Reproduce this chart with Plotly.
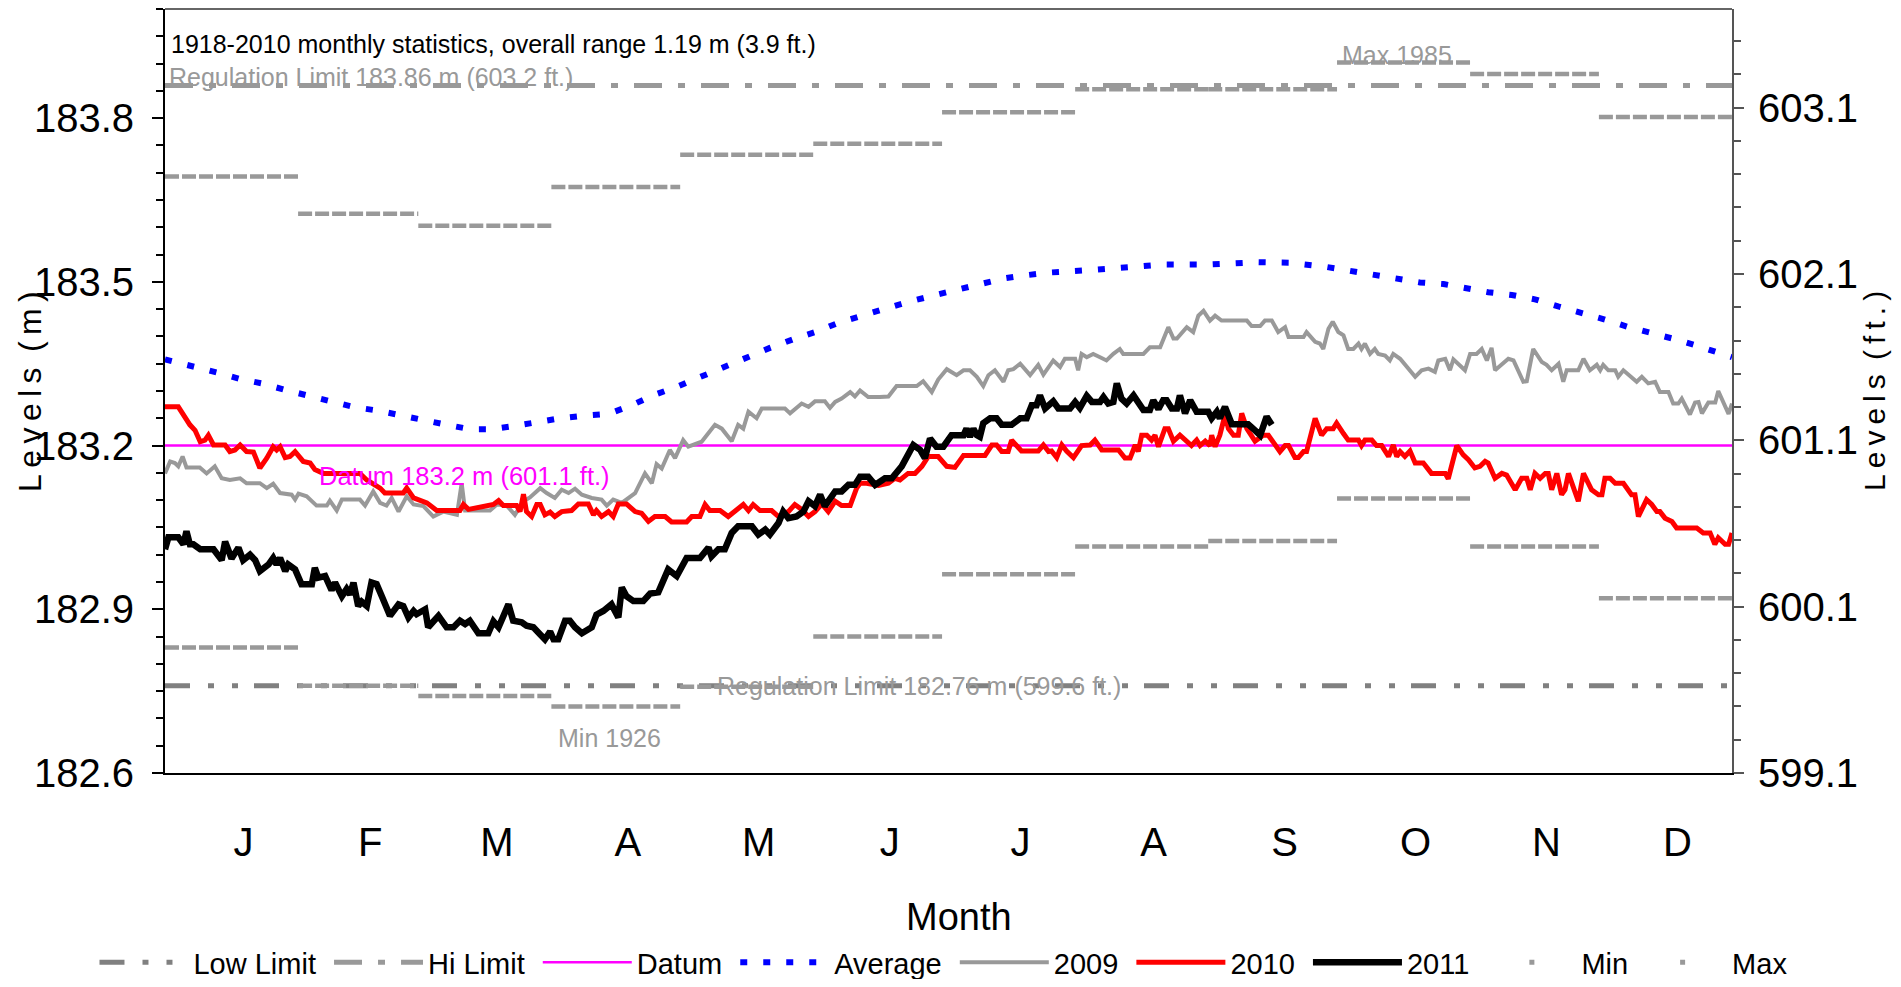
import plotly.graph_objects as go

# ---- data (levels in metres, x = day of year, 0 = start of Jan 1) ----
month_names = ["J", "F", "M", "A", "M", "J", "J", "A", "S", "O", "N", "D"]
month_len = [31, 28, 31, 30, 31, 30, 31, 31, 30, 31, 30, 31]

month_min = [182.830, 182.760, 182.741, 182.722, 182.758, 182.850,
             182.964, 183.015, 183.025, 183.103, 183.015, 182.920]
month_max = [183.693, 183.625, 183.603, 183.674, 183.733, 183.753,
             183.811, 183.853, 183.853, 183.902, 183.881, 183.802]

low_limit = 182.76
hi_limit = 183.86
datum = 183.2

avg_days = [0, 6.6, 12, 17.5, 22.5, 28, 33.4, 38.8, 44.3, 49.7,
            54.7, 60.6, 65.6, 71, 76.1, 81.5, 87, 92, 97.8, 103.3,
            108.7, 113.7, 119.6, 125, 130.4, 135.9, 140.9, 146.4, 151.8, 157.2,
            162.7, 168.1, 173.5, 179, 184, 189.5, 195.2, 200.4, 205.8, 216.5,
            222, 232.9, 243.7, 254.4, 262, 270, 280, 292.3, 297.8, 302.8,
            308.2, 313.7, 319.1, 324.5, 330, 335.4, 340.9, 346.3, 351.7, 357.2,
            362.5, 365]
avg_lvl = [183.358, 183.346, 183.334, 183.322, 183.314, 183.302, 183.291, 183.282, 183.270, 183.264,
           183.255, 183.247, 183.238, 183.230, 183.230, 183.236, 183.244, 183.250, 183.255, 183.258,
           183.274, 183.292, 183.309, 183.327, 183.345, 183.362, 183.379, 183.395, 183.409, 183.426,
           183.439, 183.454, 183.464, 183.475, 183.485, 183.496, 183.506, 183.512, 183.517, 183.522,
           183.526, 183.532, 183.532, 183.536, 183.535, 183.528, 183.515, 183.499, 183.496, 183.488,
           183.481, 183.476, 183.468, 183.455, 183.444, 183.431, 183.417, 183.407, 183.395, 183.382,
           183.368, 183.362]

days_2009 = [0, 1.2, 2.3, 3.1, 4.1, 5.0, 8.1, 9.7, 11.6, 13.2,
             15.1, 17.5, 19.0, 22.1, 23.7, 25.2, 26.8, 29.5, 30.3, 31.1,
             33.0, 35.3, 37.7, 38.4, 40.0, 41.2, 45.4, 46.6, 48.5, 50.1,
             51.6, 52.8, 54.4, 56.3, 57.9, 60.2, 62.5, 64.8, 68.0, 69.1,
             69.9, 75.7, 77.3, 79.6, 81.5, 83.5, 85.0, 87.4, 88.9,
             90.8, 92.4, 94.0, 95.5, 97.1, 99.4, 101.7, 102.9, 104.4, 106.4,
             109.5, 111.8, 113.4, 114.5, 115.7, 117.6, 118.8, 120.7, 121.9, 125.0,
             128.1, 129.7, 132.0, 133.5, 134.7, 135.9, 137.8, 139.0, 144.4, 145.6,
             148.3, 149.9, 151.4, 153.7, 154.9, 156.1, 157.6, 159.6, 160.7, 161.9,
             163.8, 166.5, 168.5, 170.4, 175.1, 176.6, 178.6, 180.1, 182.1,
             184.4, 186.0, 187.5, 189.1, 190.6, 191.8, 193.3, 195.3, 196.4, 197.6,
             199.2, 201.5, 203.4, 204.6, 206.9, 208.5, 209.6, 212.0, 212.7, 213.5,
             214.7, 216.2, 217.8, 219.3, 220.9, 222.4, 223.2, 227.9, 229.4, 231.8,
             233.7, 234.9, 235.7, 238.0, 239.5, 240.7, 241.9, 243.4, 244.6, 246.1,
             252.0, 253.1, 255.1, 256.2, 257.8, 259.3, 260.9, 261.7, 265.2, 265.9,
             267.9, 269.0, 269.8, 271.0, 272.0, 273.3, 274.5,
             275.6, 276.8, 278.0, 278.7, 279.5, 280.7, 281.8, 282.6, 284.2, 285.3,
             286.1, 287.7, 290.4, 291.2, 292.7, 294.3, 295.8, 296.6, 298.2, 299.3,
             300.1, 301.6, 302.8, 304.0, 305.5, 306.7, 307.9, 309.0, 309.8, 312.9,
             314.1, 316.4, 317.2, 318.7, 320.7, 321.8, 323.0, 324.6, 325.7, 326.5,
             329.2, 330.4, 331.9, 333.5, 334.3, 335.0, 336.2, 337.8, 338.5, 339.7,
             341.6, 342.8, 344.0, 345.5, 347.1, 348.2, 350.2, 351.3, 352.5, 353.3,
             355.2, 356.4, 357.2, 358.0, 359.5, 361.1, 361.8, 364.2, 365.0]
lvl_2009 = [183.149, 183.171, 183.168, 183.162, 183.180, 183.160, 183.160, 183.149, 183.162, 183.140,
            183.137, 183.140, 183.131, 183.131, 183.122, 183.130, 183.113, 183.110, 183.101, 183.112,
            183.107, 183.090, 183.090, 183.099, 183.081, 183.101, 183.101, 183.090, 183.116, 183.095,
            183.090, 183.104, 183.079, 183.107, 183.092, 183.089, 183.070, 183.079, 183.073, 183.131,
            183.081, 183.081, 183.092, 183.090, 183.073, 183.098, 183.105, 183.122, 183.113,
            183.104, 183.119, 183.113, 183.121, 183.110, 183.104, 183.101, 183.090, 183.101, 183.095,
            183.113, 183.149, 183.131, 183.166, 183.158, 183.192, 183.177, 183.210, 183.198, 183.207,
            183.238, 183.231, 183.208, 183.238, 183.231, 183.262, 183.250, 183.268, 183.268, 183.259,
            183.277, 183.271, 183.281, 183.281, 183.269, 183.280, 183.286, 183.298, 183.290, 183.301,
            183.289, 183.289, 183.290, 183.309, 183.309, 183.318, 183.298, 183.321, 183.340,
            183.329, 183.338, 183.338, 183.326, 183.309, 183.329, 183.338, 183.317, 183.338, 183.340,
            183.350, 183.329, 183.348, 183.330, 183.356, 183.344, 183.359, 183.359, 183.338, 183.368,
            183.362, 183.368, 183.362, 183.356, 183.368, 183.377, 183.368, 183.368, 183.380, 183.380,
            183.417, 183.396, 183.396, 183.417, 183.408, 183.438, 183.447, 183.429, 183.438, 183.429,
            183.429, 183.419, 183.419, 183.429, 183.429, 183.408, 183.417, 183.399, 183.399, 183.408,
            183.390, 183.387, 183.377, 183.414, 183.427, 183.408, 183.402,
            183.377, 183.377, 183.387, 183.377, 183.387, 183.368, 183.377, 183.368, 183.365, 183.356,
            183.368, 183.359, 183.335, 183.326, 183.338, 183.341, 183.335, 183.356, 183.359, 183.338,
            183.358, 183.348, 183.338, 183.368, 183.368, 183.377, 183.356, 183.379, 183.338, 183.359,
            183.356, 183.317, 183.318, 183.377, 183.353, 183.348, 183.338, 183.350, 183.317, 183.338,
            183.338, 183.359, 183.338, 183.348, 183.338, 183.348, 183.338, 183.338, 183.326, 183.338,
            183.326, 183.317, 183.326, 183.314, 183.317, 183.298, 183.298, 183.277, 183.277, 183.286,
            183.257, 183.279, 183.280, 183.259, 183.279, 183.279, 183.300, 183.258, 183.277]

days_2010 = [0, 3.1, 5.8, 7.0, 8.2, 9.3, 10.1, 11.3, 14.0, 15.1,
             16.3, 17.5, 19.0, 20.6, 22.1, 23.7, 25.2, 26.0, 26.8, 28.0,
             29.1, 30.3, 32.2, 33.8, 34.9, 36.9, 45.4, 47.0, 50.1, 51.2,
             55.5, 56.3, 57.9, 59.4, 61.0, 63.3, 68.7, 69.5, 70.7, 76.5,
             77.7, 78.8, 81.9, 82.7, 83.5, 84.2, 85.4, 86.6, 87.4, 88.5,
             89.7, 90.8,
             92.4, 94.7, 96.3, 98.6, 99.8, 100.5, 101.7, 103.3, 104.4, 105.6,
             107.5, 109.5, 111.0, 112.6, 114.1, 116.5, 118.0, 121.5, 122.7, 124.6,
             125.8, 126.9, 129.3, 131.2, 132.8, 134.7, 135.9, 137.0, 138.6, 141.3,
             142.9, 145.2, 146.7, 148.3, 149.9, 151.4, 153.0, 154.5, 156.1, 157.6,
             159.6, 161.1, 161.9, 163.4, 166.2, 168.5, 170.0, 171.2, 173.1, 174.7,
             176.3, 177.8, 180.1, 182.1,
             184.0, 186.0, 191.0, 192.6, 193.7, 194.9, 196.4, 197.2, 199.5, 203.4,
             204.6, 205.8, 206.5, 207.7, 208.9, 210.0, 211.6, 213.5, 215.5, 216.6,
             218.2, 222.1, 223.6, 224.8, 226.0, 226.7, 227.5, 228.7, 229.8, 230.6,
             231.4, 232.9, 233.7, 234.9, 236.4, 238.0, 239.1, 240.3, 241.1, 242.3,
             243.4, 243.8, 244.6, 245.7, 246.9, 247.7, 248.9, 250.0, 250.8, 252.0,
             253.9, 255.8, 257.0, 259.7, 260.9, 261.7, 263.2, 264.0, 265.2, 265.9,
             267.9, 269.4, 270.6, 272.1, 272.9, 274.5,
             275.6, 278.0, 278.7, 279.5, 281.1, 282.2, 283.4, 285.0, 286.1, 286.9,
             287.7, 288.8, 290.0, 291.2, 293.1, 295.0, 298.2, 298.9, 300.1, 300.9,
             302.4, 303.6, 305.1, 306.3, 307.5, 308.2, 309.8, 311.4, 312.5, 314.5,
             316.0, 317.2, 318.0, 319.1, 320.3, 321.5, 322.2, 323.0, 324.2, 325.3,
             326.1, 326.9, 329.2, 330.4, 332.3, 333.9, 334.7, 335.4, 336.6, 337.8,
             339.7, 341.6, 342.4, 343.2, 345.1, 346.3, 347.5, 348.2, 349.4, 351.0,
             352.1, 356.8, 358.3, 359.9, 361.0, 361.8, 363.4, 364.2, 365.0]
lvl_2010 = [183.271, 183.271, 183.238, 183.228, 183.207, 183.210, 183.219, 183.201, 183.201, 183.189,
            183.192, 183.201, 183.189, 183.188, 183.159, 183.177, 183.198, 183.192, 183.198, 183.178,
            183.180, 183.189, 183.171, 183.168, 183.156, 183.149, 183.149, 183.137, 183.122, 183.113,
            183.113, 183.122, 183.104, 183.099, 183.095, 183.081, 183.081, 183.092, 183.083, 183.092,
            183.099, 183.090, 183.090, 183.079, 183.111, 183.079, 183.070, 183.092, 183.092, 183.073,
            183.078, 183.070,
            183.079, 183.081, 183.093, 183.093, 183.073, 183.081, 183.070, 183.079, 183.070, 183.093,
            183.093, 183.079, 183.076, 183.061, 183.070, 183.070, 183.060, 183.060, 183.070, 183.070,
            183.092, 183.081, 183.081, 183.070, 183.079, 183.092, 183.081, 183.092, 183.081, 183.081,
            183.070, 183.079, 183.092, 183.083, 183.070, 183.079, 183.093, 183.079, 183.098, 183.090,
            183.090, 183.122, 183.131, 183.131, 183.127, 183.131, 183.140, 183.137, 183.149, 183.149,
            183.162, 183.180, 183.180, 183.162,
            183.160, 183.182, 183.182, 183.201, 183.201, 183.189, 183.189, 183.210, 183.190, 183.190,
            183.201, 183.189, 183.190, 183.178, 183.201, 183.190, 183.178, 183.200, 183.201, 183.210,
            183.192, 183.192, 183.177, 183.177, 183.201, 183.189, 183.219, 183.219, 183.210, 183.219,
            183.198, 183.231, 183.231, 183.208, 183.219, 183.208, 183.200, 183.210, 183.200, 183.208,
            183.200, 183.219, 183.198, 183.219, 183.256, 183.231, 183.219, 183.219, 183.259, 183.231,
            183.208, 183.219, 183.219, 183.189, 183.200, 183.200, 183.178, 183.178, 183.189, 183.189,
            183.250, 183.219, 183.231, 183.231, 183.241, 183.222,
            183.210, 183.210, 183.200, 183.210, 183.210, 183.200, 183.200, 183.180, 183.201, 183.180,
            183.189, 183.180, 183.190, 183.168, 183.168, 183.149, 183.149, 183.139, 183.180, 183.200,
            183.183, 183.174, 183.159, 183.162, 183.171, 183.168, 183.140, 183.149, 183.146, 183.119,
            183.140, 183.140, 183.119, 183.149, 183.140, 183.149, 183.149, 183.119, 183.149, 183.110,
            183.119, 183.149, 183.098, 183.149, 183.119, 183.110, 183.110, 183.140, 183.140, 183.131,
            183.131, 183.110, 183.110, 183.070, 183.101, 183.092, 183.079, 183.079, 183.067, 183.061,
            183.049, 183.049, 183.040, 183.040, 183.019, 183.031, 183.019, 183.019, 183.040]

days_2011 = [0, 0.8, 3.1, 4.3, 5.0, 5.8, 6.6, 8.2, 11.3, 13.2,
             14.0, 15.5, 17.1, 18.2, 19.8, 21.0, 22.1, 24.1, 25.2, 26.0,
             26.8, 28.0, 28.7, 30.3, 31.8, 34.2, 34.9, 35.7, 37.3, 38.8,
             39.6, 41.2, 42.3, 43.1, 43.9, 45.0, 45.8, 47.0, 48.1, 49.3,
             50.5, 52.4, 54.4, 55.5, 56.7, 57.9, 58.6, 59.4, 60.6, 61.3,
             63.7, 65.6, 67.2, 68.7, 69.9, 71.0, 73.0, 75.3, 76.5, 77.7,
             78.8, 80.0, 81.1, 83.1, 84.2, 85.8, 87.4, 88.5, 89.7, 90.5,
             91.6, 93.2, 94.3, 95.5, 97.1, 99.4, 100.5, 102.1, 104.0, 105.6,
             106.4, 107.5, 109.1, 111.4, 113.0, 114.9, 117.2, 119.2, 121.5, 124.6,
             126.6, 127.3, 128.9, 130.4, 132.0, 133.5, 136.7, 138.2, 139.8, 140.9,
             142.9, 144.0, 145.2, 147.1, 148.7, 149.9, 151.4, 152.6, 153.7, 156.1,
             157.6, 159.2, 160.7, 161.9, 163.8, 165.4, 167.7, 169.3, 171.6, 174.3,
             175.9, 177.0, 178.2, 179.7, 181.3, 183.2,
             184.0, 186.0, 186.7, 187.5, 188.3, 189.1, 189.8, 190.6, 192.2, 193.7,
             194.9, 197.2, 199.2, 200.7, 201.9, 203.0, 203.8, 205.0, 206.9, 208.1,
             210.8, 212.0, 213.1, 214.7, 215.9, 217.8, 218.6, 219.7, 220.9, 221.7,
             222.8, 224.0, 225.6, 227.9, 229.4, 230.2, 231.4, 232.5, 233.3, 234.5,
             235.7, 236.4, 237.6, 238.8, 240.3, 243.0, 243.8, 245.0, 245.7, 246.9,
             248.5, 252.3, 253.9, 255.1, 256.6, 257.8]
lvl_2011 = [183.010, 183.032, 183.032, 183.019, 183.043, 183.019, 183.019, 183.010, 183.010, 182.990,
            183.024, 182.993, 183.013, 182.990, 183.000, 182.990, 182.970, 182.982, 182.994, 182.982,
            182.994, 182.970, 182.982, 182.973, 182.946, 182.946, 182.976, 182.958, 182.961, 182.935,
            182.949, 182.924, 182.937, 182.927, 182.949, 182.906, 182.914, 182.906, 182.949, 182.946,
            182.924, 182.888, 182.909, 182.906, 182.885, 182.897, 182.891, 182.894, 182.900, 182.867,
            182.888, 182.867, 182.867, 182.879, 182.873, 182.879, 182.856, 182.856, 182.878, 182.867,
            182.891, 182.909, 182.879, 182.876, 182.870, 182.867, 182.854, 182.845, 182.859, 182.845,
            182.845, 182.879, 182.879, 182.867, 182.856, 182.867, 182.890, 182.897, 182.909, 182.885,
            182.940, 182.924, 182.915, 182.915, 182.929, 182.931, 182.973, 182.961, 182.994, 182.994,
            183.013, 182.997, 183.010, 183.010, 183.040, 183.052, 183.052, 183.037, 183.046, 183.037,
            183.058, 183.079, 183.067, 183.070, 183.079, 183.098, 183.089, 183.110, 183.089, 183.116,
            183.116, 183.128, 183.128, 183.143, 183.143, 183.128, 183.140, 183.140, 183.162, 183.201,
            183.192, 183.177, 183.213, 183.198, 183.198, 183.219,
            183.219, 183.219, 183.231, 183.216, 183.231, 183.219, 183.216, 183.241, 183.250, 183.250,
            183.238, 183.238, 183.250, 183.250, 183.274, 183.274, 183.292, 183.268, 183.281, 183.268,
            183.268, 183.280, 183.269, 183.291, 183.280, 183.280, 183.289, 183.277, 183.280, 183.314,
            183.286, 183.277, 183.292, 183.265, 183.265, 183.283, 183.267, 183.283, 183.283, 183.268,
            183.268, 183.292, 183.259, 183.283, 183.262, 183.262, 183.250, 183.262, 183.250, 183.271,
            183.239, 183.239, 183.228, 183.219, 183.253, 183.238]

FT = 0.3048
FONT = "Liberation Sans, Arial, sans-serif"
GREY = "#999999"
PAD = "\u00a0"   # widen legend entries a little

month_start = [sum(month_len[:i]) for i in range(12)]
month_end = [s + n for s, n in zip(month_start, month_len)]
year_end = sum(month_len)
month_mid = [s + n / 2 + 2.8 for s, n in zip(month_start, month_len)]


def month_steps(vals):
    xs, ys = [], []
    for s, e, v in zip(month_start, month_end, vals):
        xs += [s, e, None]
        ys += [v, v, None]
    return xs, ys


fig = go.Figure()

fig.add_trace(go.Scatter(
    x=[0, year_end], y=[low_limit, low_limit], mode="lines", name="Low Limit" + PAD,
    line=dict(color="#808080", width=5, dash="25px,18px,6px,18px,6px,16px")))
fig.add_trace(go.Scatter(
    x=[0, year_end], y=[hi_limit, hi_limit], mode="lines", name="Hi Limit" + PAD,
    line=dict(color=GREY, width=5, dash="28px,16px,7px,16px")))
fig.add_trace(go.Scatter(
    x=[0, year_end], y=[datum, datum], mode="lines", name="Datum" + PAD,
    line=dict(color="#FF00FF", width=2.5)))
fig.add_trace(go.Scatter(
    x=avg_days, y=avg_lvl, mode="lines", name="Average" + PAD,
    line=dict(color="#0000FF", width=6, dash="7px,16px")))
fig.add_trace(go.Scatter(
    x=days_2009, y=lvl_2009, mode="lines", name="2009" + PAD,
    line=dict(color="#999999", width=4)))
fig.add_trace(go.Scatter(
    x=days_2010, y=lvl_2010, mode="lines", name="2010" + PAD,
    line=dict(color="#FF0000", width=5)))
fig.add_trace(go.Scatter(
    x=days_2011, y=lvl_2011, mode="lines", name="2011" + PAD,
    line=dict(color="#000000", width=6.5)))

for vals, name in [(month_min, "Min"), (month_max, "Max")]:
    mx, my = month_steps(vals)
    fig.add_trace(go.Scatter(
        x=mx, y=my, mode="lines", name=name, showlegend=False,
        line=dict(color=GREY, width=4.5, dash="14px,3px")))
    # legend entry: the original shows a single small grey dot
    fig.add_trace(go.Scatter(
        x=[None], y=[None], mode="markers", name=name,
        marker=dict(color=GREY, size=5, symbol="square")))

# invisible trace to carry the feet axis
fig.add_trace(go.Scatter(
    x=[0, year_end], y=[datum / FT, datum / FT], yaxis="y2", mode="lines",
    line=dict(width=0, color="rgba(0,0,0,0)"), showlegend=False, hoverinfo="skip"))

fig.layout.template = "none"

# the page adds an 8px body margin, so the figure is 16px smaller than the window
fig.update_layout(
    width=1885, height=971,
    margin=dict(l=157, r=161, t=1, b=206, autoexpand=False),
    paper_bgcolor="white", plot_bgcolor="white",
    font=dict(family=FONT, color="black"),
    showlegend=True,
    legend=dict(
        orientation="h", x=-0.045, xanchor="left", y=-0.248, yanchor="middle",
        font=dict(size=29, family=FONT), itemwidth=89, bgcolor="rgba(0,0,0,0)"),
    xaxis=dict(
        range=[0, year_end], showgrid=False, zeroline=False,
        showline=True, linecolor="black", linewidth=2,
        tickvals=month_mid, ticktext=month_names,
        ticks="outside", ticklen=33, tickcolor="rgba(0,0,0,0)",
        tickfont=dict(size=40)),
    yaxis=dict(
        range=[182.6, 184.0], tick0=182.6, dtick=0.3, tickformat=".1f",
        showgrid=False, zeroline=False, showline=True, linecolor="black", linewidth=2,
        ticks="outside", ticklen=11, tickwidth=1.5, tickcolor="black",
        minor=dict(dtick=0.05, tick0=182.6, ticks="outside", ticklen=7, tickcolor="black"),
        ticklabelstandoff=10, tickfont=dict(size=40)),
    yaxis2=dict(
        overlaying="y", side="right",
        range=[599.1, 599.1 + 1.4 / FT], tick0=599.1, dtick=1, tickformat=".1f",
        showgrid=False, zeroline=False, showline=True, linecolor="#555555", linewidth=2,
        ticks="outside", ticklen=10, tickwidth=1.5, tickcolor="#555555",
        minor=dict(dtick=0.2, tick0=599.1, ticks="outside", ticklen=7, tickcolor="#555555"),
        ticklabelstandoff=6, tickfont=dict(size=40)),
)

fig.add_shape(type="line", xref="paper", yref="paper", x0=0, x1=1, y0=1, y1=1,
              line=dict(color="#666666", width=2))

ann = [
    dict(x=1, y=183.935, text="1918-2010 monthly statistics, overall range 1.19 m (3.9 ft.)",
         xanchor="left", font=dict(size=25, color="black")),
    dict(x=0.5, y=183.876, text="Regulation Limit 183.86 m (603.2 ft.)",
         xanchor="left", font=dict(size=25, color=GREY)),
    dict(x=128, y=low_limit, text="Regulation Limit 182.76 m (599.6 ft.)",
         xanchor="left", font=dict(size=25, color=GREY)),
    dict(x=103.5, y=182.664, text="Min 1926", xanchor="center",
         font=dict(size=25, color=GREY)),
    dict(x=287, y=183.916, text="Max 1985", xanchor="center",
         font=dict(size=25, color=GREY)),
    dict(x=35.4, y=183.145, text="Datum 183.2 m (601.1 ft.)", xanchor="left",
         font=dict(size=25.5, color="#FF00FF")),
]
for a in ann:
    fig.add_annotation(xref="x", yref="y", showarrow=False, yanchor="middle", **a)

TS = "\u2009"
fig.add_annotation(xref="paper", yref="paper", x=-0.0862, y=0.5, xanchor="center",
                   yanchor="middle", text=TS.join("Levels") + TS + " " + TS.join("(m)"),
                   textangle=-90, showarrow=False, font=dict(size=32))
fig.add_annotation(xref="paper", yref="paper", x=1.0906, y=0.5, xanchor="center",
                   yanchor="middle", text=TS.join("Levels") + TS + " " + TS.join("(ft.)"),
                   textangle=-90, showarrow=False, font=dict(size=30))
fig.add_annotation(xref="paper", yref="paper", x=0.507, y=-0.188, xanchor="center",
                   text="Month", showarrow=False, yanchor="middle", font=dict(size=38))

fig.write_html("out.html")
